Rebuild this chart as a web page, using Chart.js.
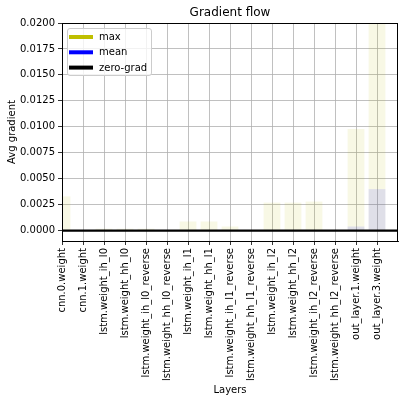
<!DOCTYPE html>
<html>
<head>
<meta charset="utf-8">
<script src="https://cdn.jsdelivr.net/npm/chart.js@4/dist/chart.umd.min.js"></script>
<style>
  html, body { margin: 0; padding: 0; background: #fff; }
  #wrap { width: 405px; height: 402px; }
</style>
</head>
<body>
<div id="wrap"><canvas id="c" width="405" height="402"></canvas></div>
<script>
// ---- data ----
const layers = [
  "cnn.0.weight", "cnn.1.weight",
  "lstm.weight_ih_l0", "lstm.weight_hh_l0",
  "lstm.weight_ih_l0_reverse", "lstm.weight_hh_l0_reverse",
  "lstm.weight_ih_l1", "lstm.weight_hh_l1",
  "lstm.weight_ih_l1_reverse", "lstm.weight_hh_l1_reverse",
  "lstm.weight_ih_l2", "lstm.weight_hh_l2",
  "lstm.weight_ih_l2_reverse", "lstm.weight_hh_l2_reverse",
  "out_layer.1.weight", "out_layer.3.weight"
];
const maxGrads = [0.0033, 0.00002, 0.00018, 0.00018, 0.00018, 0.00002, 0.00088, 0.00088, 0.0004, 0.00002, 0.0027, 0.0027, 0.0028, 0.00002, 0.0098, 0.025];
const meanGrads = [0.00003, 0.0, 0.00001, 0.00001, 0.00001, 0.0, 0.00002, 0.00002, 0.00001, 0.0, 0.00005, 0.00005, 0.00005, 0.0, 0.0004, 0.0040];
const zeroLine = [0, 0];
const yTicks = [0, 0.0025, 0.005, 0.0075, 0.01, 0.0125, 0.015, 0.0175, 0.02];
const seriesLabels = ["max", "mean", "zero-grad"];
const seriesColors = ["#bfbf00", "#0000ff", "#000000"];

function withAlpha(hex, a) {
  const r = parseInt(hex.slice(1, 3), 16), g = parseInt(hex.slice(3, 5), 16), b = parseInt(hex.slice(5, 7), 16);
  return `rgba(${r},${g},${b},${a})`;
}

Chart.defaults.font.family = "'DejaVu Sans', sans-serif";
Chart.defaults.font.size = 10;
Chart.defaults.color = "#000";

const framePlugin = {
  id: "frame",
  afterDatasetsDraw(chart) {
    const { ctx, chartArea: a } = chart;
    ctx.save();
    ctx.strokeStyle = "#000";
    ctx.lineWidth = 1;
    ctx.strokeRect(Math.round(a.left) + 0.5, Math.round(a.top) + 0.5, Math.round(a.right - a.left) - 1, Math.round(a.bottom - a.top));
    ctx.restore();
  },
  afterDraw(chart) {
    const { ctx, chartArea: a } = chart;
    ctx.save();
    const bx = a.left + 5.5, by = a.top + 5.5, bw = 84, bh = 47, r = 2.5;
    ctx.beginPath();
    ctx.moveTo(bx + r, by);
    ctx.arcTo(bx + bw, by, bx + bw, by + bh, r);
    ctx.arcTo(bx + bw, by + bh, bx, by + bh, r);
    ctx.arcTo(bx, by + bh, bx, by, r);
    ctx.arcTo(bx, by, bx + bw, by, r);
    ctx.closePath();
    ctx.fillStyle = "rgba(255,255,255,0.8)";
    ctx.fill();
    ctx.strokeStyle = "#cccccc";
    ctx.lineWidth = 1;
    ctx.stroke();
    ctx.font = "10px 'DejaVu Sans', sans-serif";
    ctx.textBaseline = "middle";
    ctx.textAlign = "left";
    seriesLabels.forEach((lab, i) => {
      const y = a.top + 14 + i * 15.3;
      ctx.strokeStyle = seriesColors[i];
      ctx.lineWidth = 4;
      ctx.lineCap = "butt";
      ctx.beginPath();
      ctx.moveTo(a.left + 7, y);
      ctx.lineTo(a.left + 31, y);
      ctx.stroke();
      ctx.fillStyle = "#000";
      ctx.fillText(lab, a.left + 37, y + 0.5);
    });
    ctx.restore();
  }
};

new Chart(document.getElementById("c"), {
  type: "bar",
  data: {
    datasets: [
      {
        type: "line",
        label: seriesLabels[2],
        data: [{ x: 0, y: zeroLine[0] }, { x: layers.length + 1, y: zeroLine[1] }],
        borderColor: seriesColors[2],
        borderWidth: 2.2,
        pointRadius: 0,
        order: 0
      },
      {
        label: seriesLabels[1],
        data: meanGrads.map((v, i) => ({ x: i, y: v })),
        backgroundColor: withAlpha(seriesColors[1], 0.1),
        borderWidth: 0,
        grouped: false,
        order: 1
      },
      {
        label: seriesLabels[0],
        data: maxGrads.map((v, i) => ({ x: i, y: v })),
        backgroundColor: withAlpha(seriesColors[0], 0.1),
        borderWidth: 0,
        grouped: false,
        order: 2
      }
    ]
  },
  options: {
    responsive: false,
    animation: false,
    events: [],
    layout: { padding: { left: 0, right: 7, top: 0, bottom: 0 } },
    datasets: { bar: { barPercentage: 0.8, categoryPercentage: 1.0 } },
    plugins: {
      legend: { display: false },
      tooltip: { enabled: false },
      title: {
        display: true,
        text: "Gradient flow",
        fullSize: false,
        font: { size: 12, weight: "normal", lineHeight: 1.2 },
        color: "#000",
        padding: { top: 6, bottom: 2.6 }
      }
    },
    scales: {
      x: {
        type: "linear",
        min: 0,
        max: layers.length,
        offset: false,
        grid: { color: "#b0b0b0", lineWidth: 0.8, tickColor: "#000", tickLength: 4, offset: false, drawOnChartArea: true },
        border: { display: true, color: "#000", width: 1 },
        afterBuildTicks: (s) => { s.ticks = layers.map((_, i) => ({ value: i })); },
        afterFit: (s) => { s.height = 161; },
        ticks: {
          autoSkip: false,
          minRotation: 90,
          maxRotation: 90,
          padding: 3,
          callback: (v) => layers[v]
        },
        title: { display: true, text: "Layers", font: { size: 10 }, padding: { top: 0, bottom: 6 } }
      },
      y: {
        min: -0.001,
        max: 0.02,
        grid: { color: "#b0b0b0", lineWidth: 0.8, tickColor: "#000", tickLength: 4 },
        border: { display: true, color: "#000", width: 1 },
        afterBuildTicks: (s) => { s.ticks = yTicks.map((v) => ({ value: v })); },
        afterFit: (s) => { s.width = 62; },
        ticks: { padding: 3, callback: (v) => Number(v).toFixed(4) },
        title: { display: true, text: "Avg gradient", font: { size: 10 }, padding: { top: 6, bottom: 0 } }
      }
    }
  },
  plugins: [framePlugin]
});
</script>
</body>
</html>
